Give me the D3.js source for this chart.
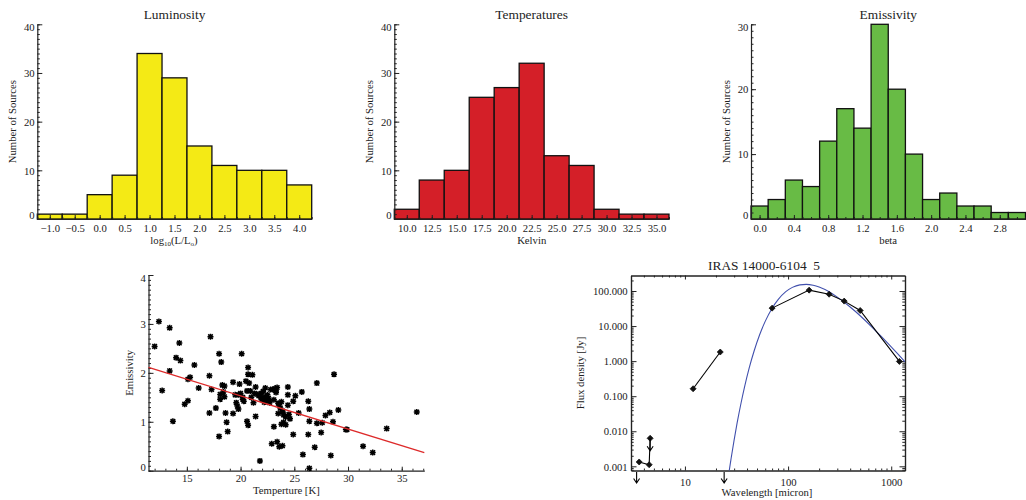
<!DOCTYPE html>
<html><head><meta charset="utf-8">
<script src="https://cdn.jsdelivr.net/npm/d3@7"></script>
<style>
html,body{margin:0;padding:0;background:#fff;}
svg{display:block;}
svg text{font-family:'Liberation Serif', 'Times New Roman', serif !important;}
</style></head><body>
<svg id="chart" width="1026" height="500"></svg>
<script>
// ---------------- DATA ----------------
const lumBins   = [-1.0,-0.5,0.0,0.5,1.0,1.5,2.0,2.5,3.0,3.5,4.0];
const lumCounts = [1,1,5,9,34,29,15,11,10,10,7];
const lumTicks  = [-1.0,-0.5,0.0,0.5,1.0,1.5,2.0,2.5,3.0,3.5,4.0];

const tempBins   = [10.0,12.5,15.0,17.5,20.0,22.5,25.0,27.5,30.0,32.5,35.0];
const tempCounts = [2,8,10,25,27,32,13,11,2,1,1];
const tempTicks  = [10.0,12.5,15.0,17.5,20.0,22.5,25.0,27.5,30.0,32.5,35.0];

const betaBins   = [0.0,0.2,0.4,0.6,0.8,1.0,1.2,1.4,1.6,1.8,2.0,2.2,2.4,2.6,2.8,3.0];
const betaCounts = [2,3,6,5,12,17,14,30,20,10,3,4,2,2,1,1];
const betaTicks  = [0.0,0.4,0.8,1.2,1.6,2.0,2.4,2.8];

const histYTicks40 = [0,10,20,30,40];
const histYTicks30 = [0,10,20,30];

// scatter: temperature [K] vs emissivity
const scatterT = [12.0,12.4,12.7,13.4,13.4,13.7,14.0,14.3,14.4,14.8,15.1,15.1,15.3,15.7,16.1,17.1,17.1,17.2,17.3,17.7,
  18.0,18.0,18.1,18.1,18.2,18.3,18.4,18.5,18.5,18.6,18.7,18.8,19.3,19.3,19.5,19.6,19.7,19.8,19.9,20.0,
  20.1,20.2,20.3,20.5,20.6,20.6,20.7,20.7,20.7,20.8,20.9,21.0,21.1,21.2,21.4,21.4,21.6,21.8,21.9,21.9,
  22.1,22.2,22.3,22.3,22.4,22.6,22.7,22.9,23.0,23.1,23.2,23.3,23.3,23.4,23.5,23.5,23.6,23.7,23.8,23.8,
  23.9,23.9,24.0,24.2,24.4,24.4,24.4,24.5,24.6,24.9,24.9,25.1,25.4,25.7,25.8,26.3,26.3,26.4,26.4,26.4,
  26.9,27.1,27.1,27.5,27.6,27.9,28.3,28.4,28.6,28.7,29.1,29.8,29.9,31.4,32.3,33.6,36.4,
  21.7,22.0,22.5,22.8,23.4,23.6,23.9,24.2,24.0,21.3,20.2,19.8,22.1,22.6,23.1];
const scatterBeta = [2.54,3.05,1.64,2.92,2.04,1.01,2.31,2.61,2.25,1.36,1.43,1.87,1.91,2.16,1.69,1.94,1.18,2.74,1.66,1.28,
  2.39,0.70,1.56,1.46,2.22,1.75,1.61,1.73,1.51,1.18,0.99,0.80,1.17,1.81,1.55,1.39,1.32,1.26,1.77,1.58,
  2.39,1.46,1.42,1.83,1.01,1.63,2.11,1.97,0.93,1.79,1.63,1.50,1.96,1.39,1.71,1.11,1.56,0.20,1.49,1.58,
  1.62,1.40,1.51,1.69,1.45,1.48,1.39,0.55,1.66,0.90,1.68,1.63,1.60,0.59,1.38,1.17,0.49,1.28,0.95,1.41,
  0.51,1.20,0.99,0.94,1.34,1.55,1.71,1.15,1.06,1.42,0.74,1.53,1.18,1.61,0.33,1.42,0.74,0.05,1.01,1.26,
  0.48,1.79,0.97,0.78,0.98,1.13,1.19,0.31,1.00,1.97,1.24,0.84,0.84,0.50,0.37,0.86,1.20,
  1.53,1.45,1.55,1.66,1.70,1.35,1.22,1.10,1.14,1.58,1.50,1.55,1.47,1.42,1.45];
const fitLineT    = [11.43, 37.1];
const fitLineBeta = [2.11, 0.37];
const scatterXTicks = [15,20,25,30,35];
const scatterYTicks = [0,1,2,3,4];

// SED of IRAS 14000-6104 5
const nirWave  = [3.6, 4.5, 4.6];
const nirFlux  = [0.00133, 0.00111, 0.0063];
const midWave  = [12, 22];
const midFlux  = [0.163, 1.82];
const farWave  = [70, 160, 250, 350, 500, 1200];
const farFlux  = [32.5, 106, 81, 51.5, 27.8, 0.98];
const limitWave = [4.6];          // upper limit drawn on point
const limitFlux = [0.0063];
const offLimitWave = [3.4, 24];   // upper limits below the plotted range
const modelWave = [26.5,27,28,30,32,35,38,42,47,53,60,70,80,95,110,130,150,175,200,250,300,400,500,650,800,1000,1200,1360];
const modelFlux = [0.00056,0.00082,0.00164,0.0057,0.0167,0.064,0.194,0.64,2.01,5.65,13.6,32.4,57,96,127,150,155,146,130,95,67,35,19.7,9.4,5.06,2.54,1.43,0.95];
const sedXTicks = [10,100,1000];
const sedYTicks = [0.001,0.01,0.1,1,10,100];

// ---------------- DRAW ----------------
const FONT = "'Liberation Serif', 'Times New Roman', serif";
const INK = "#222";
const svg = d3.select("#chart");

function styleAxis(g){
  g.attr("font-family", null).attr("font-size", null);
  g.selectAll("path.domain").attr("stroke", INK).attr("stroke-width", 1.2);
  g.selectAll(".tick line").attr("stroke", INK).attr("stroke-width", 1);
  g.selectAll("text").style("font-family", FONT).attr("font-size", 10.7).attr("fill", INK);
}

function yLabelOffsets(g, yTopOff, yMidOff, yBotOff){
  const t = g.selectAll(".tick text");
  const n = t.size();
  t.attr("dy", null).attr("x", -2.6).attr("y", (d,i) => {
    return i === 0 ? yBotOff : (i === n-1 ? yTopOff : yMidOff);
  });
}

function text(x, y, s, size, anchor, rot){
  const t = svg.append("text").style("font-family", FONT).attr("font-size", size)
    .attr("fill", INK).attr("text-anchor", anchor || "middle");
  if (rot) t.attr("transform", `translate(${x},${y}) rotate(-90)`);
  else t.attr("x", x).attr("y", y);
  t.text(s);
  return t;
}

function histogram(o){
  const x = d3.scaleLinear().domain(o.xDomain).range([o.l, o.r]);
  const y = d3.scaleLinear().domain([0, o.yMax]).range([o.b, o.t]);
  const g = svg.append("g");
  const data = o.bins.map((b,i) => ({b, c:o.counts[i]}));
  g.selectAll("rect").data(data).join("rect")
    .attr("x", d => x(d.b - o.w/2))
    .attr("width", d => x(d.b + o.w/2) - x(d.b - o.w/2))
    .attr("y", d => y(d.c))
    .attr("height", d => y(0) - y(d.c))
    .attr("fill", o.fill).attr("stroke", "#111").attr("stroke-width", 1.3);

  const xm = svg.append("g").attr("transform", `translate(0,${o.b})`)
    .call(d3.axisBottom(x).tickValues(d3.range(o.xDomain[0], o.xDomain[1]+1e-9, o.xMinor)).tickSize(-2).tickFormat(""));
  xm.select("path.domain").remove(); styleAxis(xm);
  const xa = svg.append("g").attr("transform", `translate(0,${o.b})`)
    .call(d3.axisBottom(x).tickValues(o.xTicks).tickSize(-4).tickSizeOuter(0).tickFormat(d3.format(o.xFmt)));
  styleAxis(xa);
  xa.selectAll(".tick text").attr("dy", null).attr("y", 13.4);

  const ym = svg.append("g").attr("transform", `translate(${o.l},0)`)
    .call(d3.axisLeft(y).tickValues(d3.range(0, o.yMax+1e-9, 1)).tickSize(-2.5).tickFormat(""));
  ym.select("path.domain").remove(); styleAxis(ym);
  const ya = svg.append("g").attr("transform", `translate(${o.l},0)`)
    .call(d3.axisLeft(y).tickValues(o.yTicks).tickSize(-5).tickSizeOuter(0).tickFormat(d3.format("d")));
  styleAxis(ya);
  yLabelOffsets(ya, 6.4, 3.7, -0.7);

  text((o.l+o.r)/2, 19.3, o.title, 13.4);
  text(o.l - 21.3, (o.t+o.b)/2, "Number of Sources", 10.7, "middle", true);
  return {x, y};
}

histogram({l:37.3, r:311.7, t:24.3, b:219, xDomain:[-1.25,4.25], yMax:40, yTicks:histYTicks40,
  bins:lumBins, counts:lumCounts, w:0.5, fill:"#f4ea15", xTicks:lumTicks, xMinor:0.25, xFmt:".1f", title:"Luminosity"});
histogram({l:394.3, r:669, t:24.3, b:219, xDomain:[8.75,36.25], yMax:40, yTicks:histYTicks40,
  bins:tempBins, counts:tempCounts, w:2.5, fill:"#d41f28", xTicks:tempTicks, xMinor:1.25, xFmt:".1f", title:"Temperatures"});
histogram({l:751, r:1025.5, t:24.3, b:219, xDomain:[-0.1,3.1], yMax:30, yTicks:histYTicks30,
  bins:betaBins, counts:betaCounts, w:0.2, fill:"#68bb45", xTicks:betaTicks, xMinor:0.1, xFmt:".1f", title:"Emissivity"});

{
  const t = svg.append("text").style("font-family", FONT).attr("font-size", 10.7).attr("fill", INK)
    .attr("text-anchor", "middle").attr("x", 174).attr("y", 243.5);
  t.append("tspan").text("log");
  t.append("tspan").attr("font-size", 7).attr("dy", 2.2).text("10");
  t.append("tspan").attr("dy", -2.2).text("(L/L");
  t.append("tspan").attr("font-size", 7).attr("dy", 2.2).text("o");
  t.append("tspan").attr("dy", -2.2).text(")");
}
text(531.7, 243.5, "Kelvin", 10.7);
text(888.2, 243.5, "beta", 10.7);

// ---------------- scatter ----------------
{
  const l = 148.5, r = 424.3, t = 275, b = 470.7;
  const x = d3.scaleLinear().domain([11.43, 37.1]).range([l, r]);
  const y = d3.scaleLinear().domain([0, 4]).range([b, t]);

  const xm = svg.append("g").attr("transform", `translate(0,${b})`)
    .call(d3.axisBottom(x).tickValues(d3.range(12, 37.5, 1)).tickSize(-2).tickFormat(""));
  xm.select("path.domain").remove(); styleAxis(xm);
  const xa = svg.append("g").attr("transform", `translate(0,${b})`)
    .call(d3.axisBottom(x).tickValues(scatterXTicks).tickSize(-4).tickSizeOuter(0).tickFormat(d3.format("d")));
  styleAxis(xa);
  xa.selectAll(".tick text").attr("dy", null).attr("y", 11.5);

  const ym = svg.append("g").attr("transform", `translate(${l},0)`)
    .call(d3.axisLeft(y).tickValues(d3.range(0, 4.001, 0.1)).tickSize(-2.5).tickFormat(""));
  ym.select("path.domain").remove(); styleAxis(ym);
  const ya = svg.append("g").attr("transform", `translate(${l},0)`)
    .call(d3.axisLeft(y).tickValues(scatterYTicks).tickSize(-5).tickSizeOuter(0).tickFormat(d3.format("d")));
  styleAxis(ya);
  yLabelOffsets(ya, 6.0, 3.7, -0.2);

  const star = "M-3,0H3M0,-3V3M-2.3,-2.3L2.3,2.3M-2.3,2.3L2.3,-2.3";
  svg.append("g").selectAll("path").data(scatterT.map((v,i)=>[v, scatterBeta[i]])).join("path")
    .attr("transform", d => `translate(${x(d[0])},${y(d[1])})`)
    .attr("d", star).attr("stroke", "#000").attr("stroke-width", 1.5).attr("fill", "none");

  svg.append("path")
    .attr("d", d3.line()([[x(fitLineT[0]), y(fitLineBeta[0])], [x(fitLineT[1]), y(fitLineBeta[1])]]))
    .attr("stroke", "#dd2a2a").attr("stroke-width", 1.3).attr("fill", "none");

  text(132.5, (t+b)/2, "Emissivity", 10.7, "middle", true);
  text((l+r)/2, 493.5, "Temperture [K]", 10.7);
}

// ---------------- SED ----------------
{
  const l = 631, r = 905, t = 275.5, b = 470.5;
  const x = d3.scaleLog().domain([3.0, 1360]).range([l, r]);
  const y = d3.scaleLog().domain([7.6e-4, 277]).range([b, t]);
  const isMajor = v => Math.abs(Math.log10(v) - Math.round(Math.log10(v))) < 1e-6;
  const xMin = x.ticks().filter(v => !isMajor(v));
  const yMin = y.ticks().filter(v => !isMajor(v));

  function ax(gen, tr, vals, size, fmt){
    const g = svg.append("g").attr("transform", tr)
      .call(gen.tickValues(vals).tickSize(size).tickSizeOuter(0).tickFormat(fmt));
    styleAxis(g);
    return g;
  }
  [ [d3.axisBottom(x), `translate(0,${b})`, xMin, -2],
    [d3.axisTop(x), `translate(0,${t})`, xMin, -2],
    [d3.axisLeft(y), `translate(${l},0)`, yMin, -2.7],
    [d3.axisRight(y), `translate(${r},0)`, yMin, -2.7] ].forEach(a => {
      ax(a[0], a[1], a[2], a[3], () => "");
    });
  const xb = ax(d3.axisBottom(x), `translate(0,${b})`, sedXTicks, -4, d3.format("d"));
  xb.selectAll(".tick text").attr("dy", null).attr("y", 15);
  ax(d3.axisTop(x), `translate(0,${t})`, sedXTicks, -4, () => "");
  const yl = ax(d3.axisLeft(y), `translate(${l},0)`, sedYTicks, -5.5, d3.format(".3f"));
  yl.selectAll(".tick text").attr("dy", null).attr("x", -3.3).attr("y", 3.7);
  ax(d3.axisRight(y), `translate(${r},0)`, sedYTicks, -5.5, () => "");

  svg.append("clipPath").attr("id", "sedclip").append("rect")
    .attr("x", l).attr("y", t).attr("width", r-l).attr("height", b-t);
  svg.append("path")
    .attr("clip-path", "url(#sedclip)")
    .attr("d", d3.line().x(d => x(d[0])).y(d => y(d[1])).curve(d3.curveMonotoneX)(modelWave.map((w,i)=>[w, modelFlux[i]])))
    .attr("stroke", "#4150ad").attr("stroke-width", 1.1).attr("fill", "none");

  const groups = [[nirWave, nirFlux], [midWave, midFlux], [farWave, farFlux]];
  const diamond = "M0,-3L3,0L0,3L-3,0Z";
  groups.forEach(([w, f]) => {
    const pts = w.map((v,i) => [x(v), y(f[i])]);
    svg.append("path").attr("d", d3.line()(pts)).attr("stroke", "#000").attr("stroke-width", 1.1).attr("fill", "none");
    svg.append("g").selectAll("path").data(pts).join("path")
      .attr("transform", d => `translate(${d[0]},${d[1]})`)
      .attr("d", diamond).attr("fill", "#111").attr("stroke", "#111").attr("stroke-width", 0.8);
  });

  function arrow(px, y0, y1){
    svg.append("path")
      .attr("d", `M${px},${y0}V${y1}M${px-3},${y1-4.5}L${px},${y1}L${px+3},${y1-4.5}`)
      .attr("stroke", "#000").attr("stroke-width", 1.1).attr("fill", "none");
  }
  limitWave.forEach((w,i) => { const py = y(limitFlux[i]); arrow(x(w), py, py + 12.5); });
  offLimitWave.forEach(w => arrow(x(w), b + 1.5, b + 12.5));

  text(764, 270, "IRAS 14000-6104\u00a0\u00a05", 13.4);
  text(583.5, (t+b)/2, "Flux density [Jy]", 10.7, "middle", true);
  text(767, 495.5, "Wavelength [micron]", 10.7);
}
</script>
</body></html>
